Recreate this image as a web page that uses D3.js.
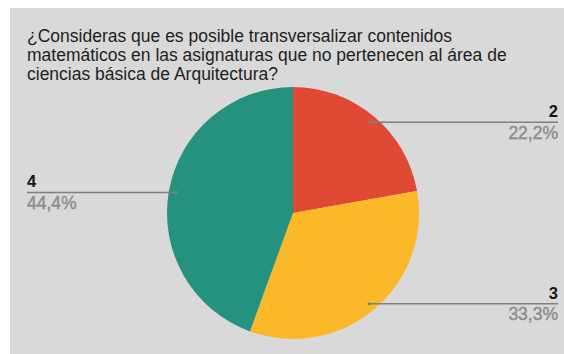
<!DOCTYPE html>
<html>
<head>
<meta charset="utf-8">
<script src="https://cdn.jsdelivr.net/npm/d3@7"></script>
<style>
  html, body { margin: 0; padding: 0; background: #ffffff; }
  svg { display: block; }
</style>
</head>
<body>
<svg id="chart" width="564" height="354"></svg>
<script>
// Survey answers and their shares
const categories = ["2", "3", "4"];
const values = [22.2, 33.3, 44.4];
const percentLabels = ["22,2%", "33,3%", "44,4%"];
const colors = ["#e04a35", "#fbb829", "#25927f"];
const titleLines = [
  "¿Consideras que es posible transversalizar contenidos",
  "matemáticos en las asignaturas que no pertenecen al área de",
  "ciencias básica de Arquitectura?"
];

const W = 564, H = 354;
const svg = d3.select("#chart");
const font = "'Liberation Sans', Arial, sans-serif";

// panel background
svg.append("rect").attr("x", 10).attr("y", 8).attr("width", W - 10).attr("height", H - 8)
  .attr("fill", "#d9d9d9");

// title
svg.append("g").selectAll("text").data(titleLines).join("text")
  .attr("x", 27)
  .attr("y", (d, i) => 42 + i * 19)
  .attr("font-family", font)
  .attr("font-size", 17.5)
  .attr("fill", "#1e1e1e")
  .text(d => d);

// pie
const cx = 293, cy = 213, r = 126;
const data = categories.map((c, i) => ({ cat: c, value: values[i], pct: percentLabels[i], color: colors[i] }));
const pie = d3.pie().value(d => d.value).sort(null);
const arcs = pie(data);
const arc = d3.arc().innerRadius(0).outerRadius(r);

const g = svg.append("g").attr("transform", `translate(${cx},${cy})`);
g.selectAll("path").data(arcs).join("path")
  .attr("d", arc)
  .attr("fill", d => d.data.color);

// leader lines and labels
const labelGroup = svg.append("g");
arcs.forEach(a => {
  const mid = (a.startAngle + a.endAngle) / 2;
  const rr = r * 0.94;
  const px = cx + Math.sin(mid) * rr;
  const py = cy - Math.cos(mid) * rr;
  const right = mid < Math.PI;
  const endX = right ? 558 : 27;
  labelGroup.append("line")
    .attr("x1", px).attr("y1", py).attr("x2", endX).attr("y2", py)
    .attr("stroke", "#808080").attr("stroke-width", 1.5);
  labelGroup.append("circle").attr("cx", px).attr("cy", py).attr("r", 1.6).attr("fill", "#808080");
  labelGroup.append("text")
    .attr("x", endX).attr("y", py - 5)
    .attr("text-anchor", right ? "end" : "start")
    .attr("font-family", font).attr("font-weight", "bold").attr("font-size", 16.5)
    .attr("fill", "#151515")
    .text(a.data.cat);
  labelGroup.append("text")
    .attr("x", endX).attr("y", py + 16.5)
    .attr("text-anchor", right ? "end" : "start")
    .attr("font-family", font).attr("font-size", 17.5)
    .attr("stroke", "#8c8c8c").attr("stroke-width", 0.4)
    .attr("fill", "#8c8c8c")
    .text(a.data.pct);
});
</script>
</body>
</html>
